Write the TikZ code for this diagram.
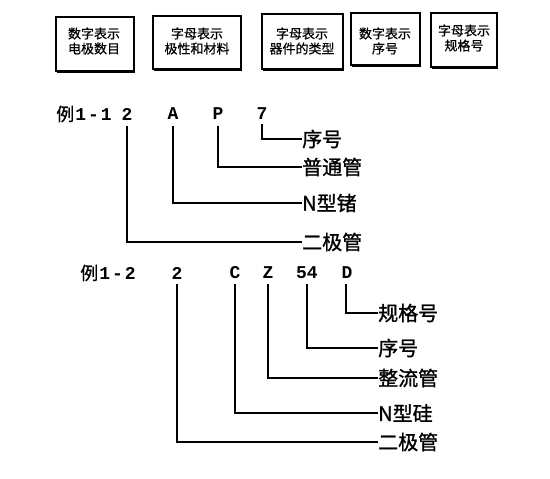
\documentclass[tikz,border=0pt]{standalone}
\usepackage{fontspec}
\setmainfont{Noto Sans CJK SC}
\newfontfamily\cjk{Noto Sans CJK SC}
\newfontfamily\latinmono{Liberation Mono}
\begin{document}
\begin{tikzpicture}[x=1pt,y=-1pt,
  box/.style={draw,line width=1.1pt,minimum height=0pt,inner sep=0pt},
  boxtext/.style={font=\addfontfeature{FakeBold=0.6}\fontsize{13}{15}\selectfont,align=center,inner sep=0pt},
  code/.style={font=\latinmono\bfseries\fontsize{18}{20}\selectfont,inner sep=0pt,anchor=center},
  lab/.style={font=\addfontfeature{FakeBold=1.2}\fontsize{20}{22}\selectfont,inner sep=0pt,anchor=west},
  conn/.style={line width=1.2pt}]
\useasboundingbox (0,0) rectangle (550,479);
% boxes
\draw[box] (56,17) rectangle (134,71);
\draw[box] (153,16) rectangle (241,69);
\draw[box] (262,14) rectangle (343,69);
\draw[box] (351,13) rectangle (420,65);
\draw[box] (431,13) rectangle (497,67);
\draw[line width=1.6pt] (134,18) -- (134,72) -- (57,72);
\draw[line width=1.6pt] (241,17) -- (241,70) -- (154,70);
\draw[line width=1.6pt] (343,15) -- (343,70) -- (263,70);
\draw[line width=1.6pt] (420,14) -- (420,66) -- (352,66);
\draw[line width=1.6pt] (497,14) -- (497,68) -- (432,68);
\node[boxtext] (b1) at (94,41) {数字表示\\电极数目};
\node[boxtext] (b2) at (197,41) {字母表示\\极性和材料};
\node[boxtext] (b3) at (302,41) {字母表示\\器件的类型};
\node[boxtext] (b4) at (385,41) {数字表示\\序号};
\node[boxtext] (b5) at (464,38) {字母表示\\规格号};
% example 1
\node[code] (e1) at (84,114) {{\cjk\mdseries\addfontfeature{FakeBold=0.8}例}\hspace{1pt}1\hspace{2pt}-\hspace{2pt}1};
\node[code] (a1) at (127,114) {2};
\node[code] (a2) at (173,114) {A};
\node[code] (a3) at (218,114) {P};
\node[code] (a4) at (262,114) {7};
\node[lab] (l14) at (302,139) {序号};
\node[lab] (l13) at (302,167) {普通管};
\node[lab] (l12) at (302,203) {N型锗};
\node[lab] (l11) at (302,242) {二极管};
\draw[conn] ([yshift=-4pt]a4.south) |- (l14.west);
\draw[conn] ([yshift=-6pt]a3.south) |- (l13.west);
\draw[conn] ([yshift=-6pt]a2.south) |- (l12.west);
\draw[conn] ([yshift=-6pt]a1.south) |- (l11.west);
% example 2
\node[code] (e2) at (108,273) {{\cjk\mdseries\addfontfeature{FakeBold=0.8}例}\hspace{1pt}1\hspace{2pt}-\hspace{2pt}2};
\node[code] (c1) at (177,273) {2};
\node[code] (c2) at (235,273) {C};
\node[code] (c3) at (268,273) {Z};
\node[code] (c4) at (307,273) {54};
\node[code] (c5) at (347,273) {D};
\node[lab] (l25) at (378,313) {规格号};
\node[lab] (l24) at (378,348) {序号};
\node[lab] (l23) at (378,378) {整流管};
\node[lab] (l22) at (378,413) {N型硅};
\node[lab] (l21) at (378,442) {二极管};
\draw[conn] ([xshift=-1pt,yshift=-5pt]c5.south) |- (l25.west);
\draw[conn] ([yshift=-5pt]c4.south) |- (l24.west);
\draw[conn] ([yshift=-5pt]c3.south) |- (l23.west);
\draw[conn] ([yshift=-5pt]c2.south) |- (l22.west);
\draw[conn] ([yshift=-5pt]c1.south) |- (l21.west);
\end{tikzpicture}
\end{document}
